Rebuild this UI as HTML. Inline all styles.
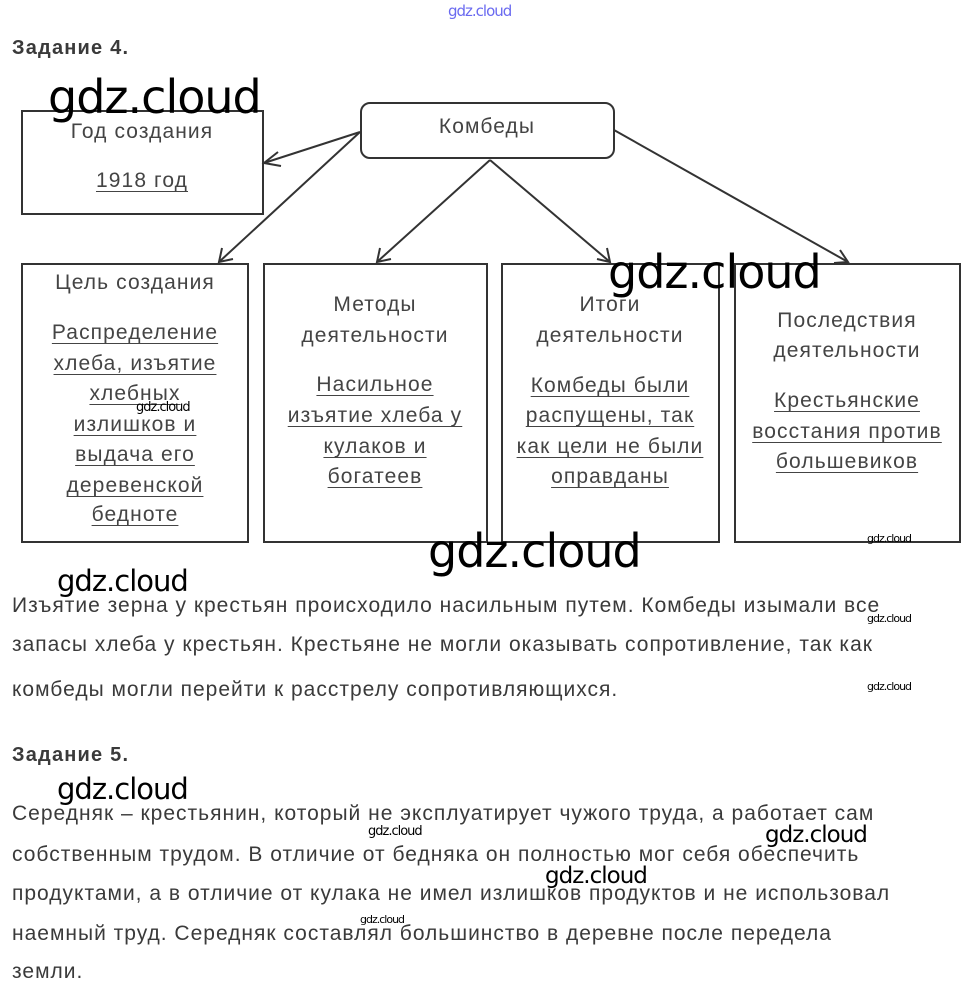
<!DOCTYPE html>
<html><head><meta charset="utf-8"><style>
body{margin:0;width:971px;height:997px;background:#fff;position:relative;overflow:hidden;font-family:"Liberation Sans","Noto Sans CJK SC",sans-serif;color:#3a3a3a}
.b{position:absolute;border:2px solid #333;box-sizing:border-box}
.t{position:absolute;width:300px;text-align:center;font-size:21px;letter-spacing:1.1px;line-height:24px;white-space:nowrap;color:#444}
.u span{text-decoration:underline;text-underline-offset:4px;text-decoration-thickness:1px}
.p{position:absolute;left:12px;font-size:21px;letter-spacing:1px;line-height:24px;white-space:nowrap;color:#3a3a3a}
.h{position:absolute;left:12px;font-size:20px;letter-spacing:1.2px;font-weight:bold;color:#3a3a3a}
.w{position:absolute;font-family:"DejaVu Sans",sans-serif;color:#000;white-space:nowrap;letter-spacing:-1px}
</style></head><body>
<div class="w" style="left:448px;top:2px;font-size:15px;color:#6a6af0;font-weight:normal">gdz.cloud</div>
<div class="h" style="top:37px">Задание 4.</div>

<div class="b" style="left:21px;top:110px;width:243px;height:105px"></div>
<div class="b" style="left:360px;top:102px;width:255px;height:57px;border-radius:10px"></div>
<div class="b" style="left:21px;top:263px;width:228px;height:280px"></div>
<div class="b" style="left:263px;top:263px;width:225px;height:280px"></div>
<div class="b" style="left:501px;top:263px;width:219px;height:280px"></div>
<div class="b" style="left:734px;top:263px;width:227px;height:280px"></div>

<svg style="position:absolute;left:0;top:0" width="971" height="997">
<g stroke="#333" stroke-width="2" fill="none">
<line x1="360" y1="132" x2="264" y2="163"/><polyline points="278,152 264,163 281,166"/>
<line x1="360" y1="132" x2="219" y2="262"/><polyline points="222,248 219,262 233,259"/>
<line x1="490" y1="160" x2="377" y2="262"/><polyline points="380,248 377,262 391,259"/>
<line x1="490" y1="160" x2="610" y2="262"/><polyline points="597,259 610,262 607,248"/>
<line x1="614" y1="130" x2="848" y2="262"/><polyline points="834,263 848,262 840,250"/>
</g></svg>

<div class="t" style="left:-8px;top:120px">Год создания</div>
<div class="t u" style="left:-8px;top:169px"><span>1918 год</span></div>
<div class="t" style="left:337px;top:115px">Комбеды</div>

<div class="t" style="left:-15px;top:271px">Цель создания</div>
<div class="t u" style="left:-15px;top:321px"><span>Распределение</span></div>
<div class="t u" style="left:-15px;top:352px"><span>хлеба, изъятие</span></div>
<div class="t u" style="left:-15px;top:382px"><span>хлебных</span></div>
<div class="t u" style="left:-15px;top:413px"><span>излишков и</span></div>
<div class="t u" style="left:-15px;top:443px"><span>выдача его</span></div>
<div class="t u" style="left:-15px;top:474px"><span>деревенской</span></div>
<div class="t u" style="left:-15px;top:503px"><span>бедноте</span></div>

<div class="t" style="left:225px;top:293px">Методы</div>
<div class="t" style="left:225px;top:324px">деятельности</div>
<div class="t u" style="left:225px;top:373px"><span>Насильное</span></div>
<div class="t u" style="left:225px;top:404px"><span>изъятие хлеба у</span></div>
<div class="t u" style="left:225px;top:435px"><span>кулаков и</span></div>
<div class="t u" style="left:225px;top:465px"><span>богатеев</span></div>

<div class="t" style="left:460px;top:293px">Итоги</div>
<div class="t" style="left:460px;top:324px">деятельности</div>
<div class="t u" style="left:460px;top:374px"><span>Комбеды были</span></div>
<div class="t u" style="left:460px;top:404px"><span>распущены, так</span></div>
<div class="t u" style="left:460px;top:435px"><span>как цели не были</span></div>
<div class="t u" style="left:460px;top:465px"><span>оправданы</span></div>

<div class="t" style="left:697px;top:309px">Последствия</div>
<div class="t" style="left:697px;top:339px">деятельности</div>
<div class="t u" style="left:697px;top:389px"><span>Крестьянские</span></div>
<div class="t u" style="left:697px;top:420px"><span>восстания против</span></div>
<div class="t u" style="left:697px;top:450px"><span>большевиков</span></div>

<div class="p" style="top:594px">Изъятие зерна у крестьян происходило насильным путем. Комбеды изымали все</div>
<div class="p" style="top:633px">запасы хлеба у крестьян. Крестьяне не могли оказывать сопротивление, так как</div>
<div class="p" style="top:678px">комбеды могли перейти к расстрелу сопротивляющихся.</div>

<div class="h" style="top:744px">Задание 5.</div>
<div class="p" style="top:802px">Середняк – крестьянин, который не эксплуатирует чужого труда, а работает сам</div>
<div class="p" style="top:843px">собственным трудом. В отличие от бедняка он полностью мог себя обеспечить</div>
<div class="p" style="top:882px">продуктами, а в отличие от кулака не имел излишков продуктов и не использовал</div>
<div class="p" style="top:922px">наемный труд. Середняк составлял большинство в деревне после передела</div>
<div class="p" style="top:960px">земли.</div>

<div class="w" style="left:48px;top:70px;font-size:46px">gdz.cloud</div>
<div class="w" style="left:608px;top:245px;font-size:46px">gdz.cloud</div>
<div class="w" style="left:428px;top:524px;font-size:46px">gdz.cloud</div>
<div class="w" style="left:57px;top:564px;font-size:29px">gdz.cloud</div>
<div class="w" style="left:57px;top:772px;font-size:29px">gdz.cloud</div>
<div class="w" style="left:765px;top:822px;font-size:23px">gdz.cloud</div>
<div class="w" style="left:545px;top:863px;font-size:23px">gdz.cloud</div>
<div class="w" style="left:136px;top:400px;font-size:13px">gdz.cloud</div>
<div class="w" style="left:867px;top:532px;font-size:11px">gdz.cloud</div>
<div class="w" style="left:867px;top:612px;font-size:11px">gdz.cloud</div>
<div class="w" style="left:867px;top:680px;font-size:11px">gdz.cloud</div>
<div class="w" style="left:368px;top:824px;font-size:13px">gdz.cloud</div>
<div class="w" style="left:360px;top:913px;font-size:11px">gdz.cloud</div>
</body></html>
